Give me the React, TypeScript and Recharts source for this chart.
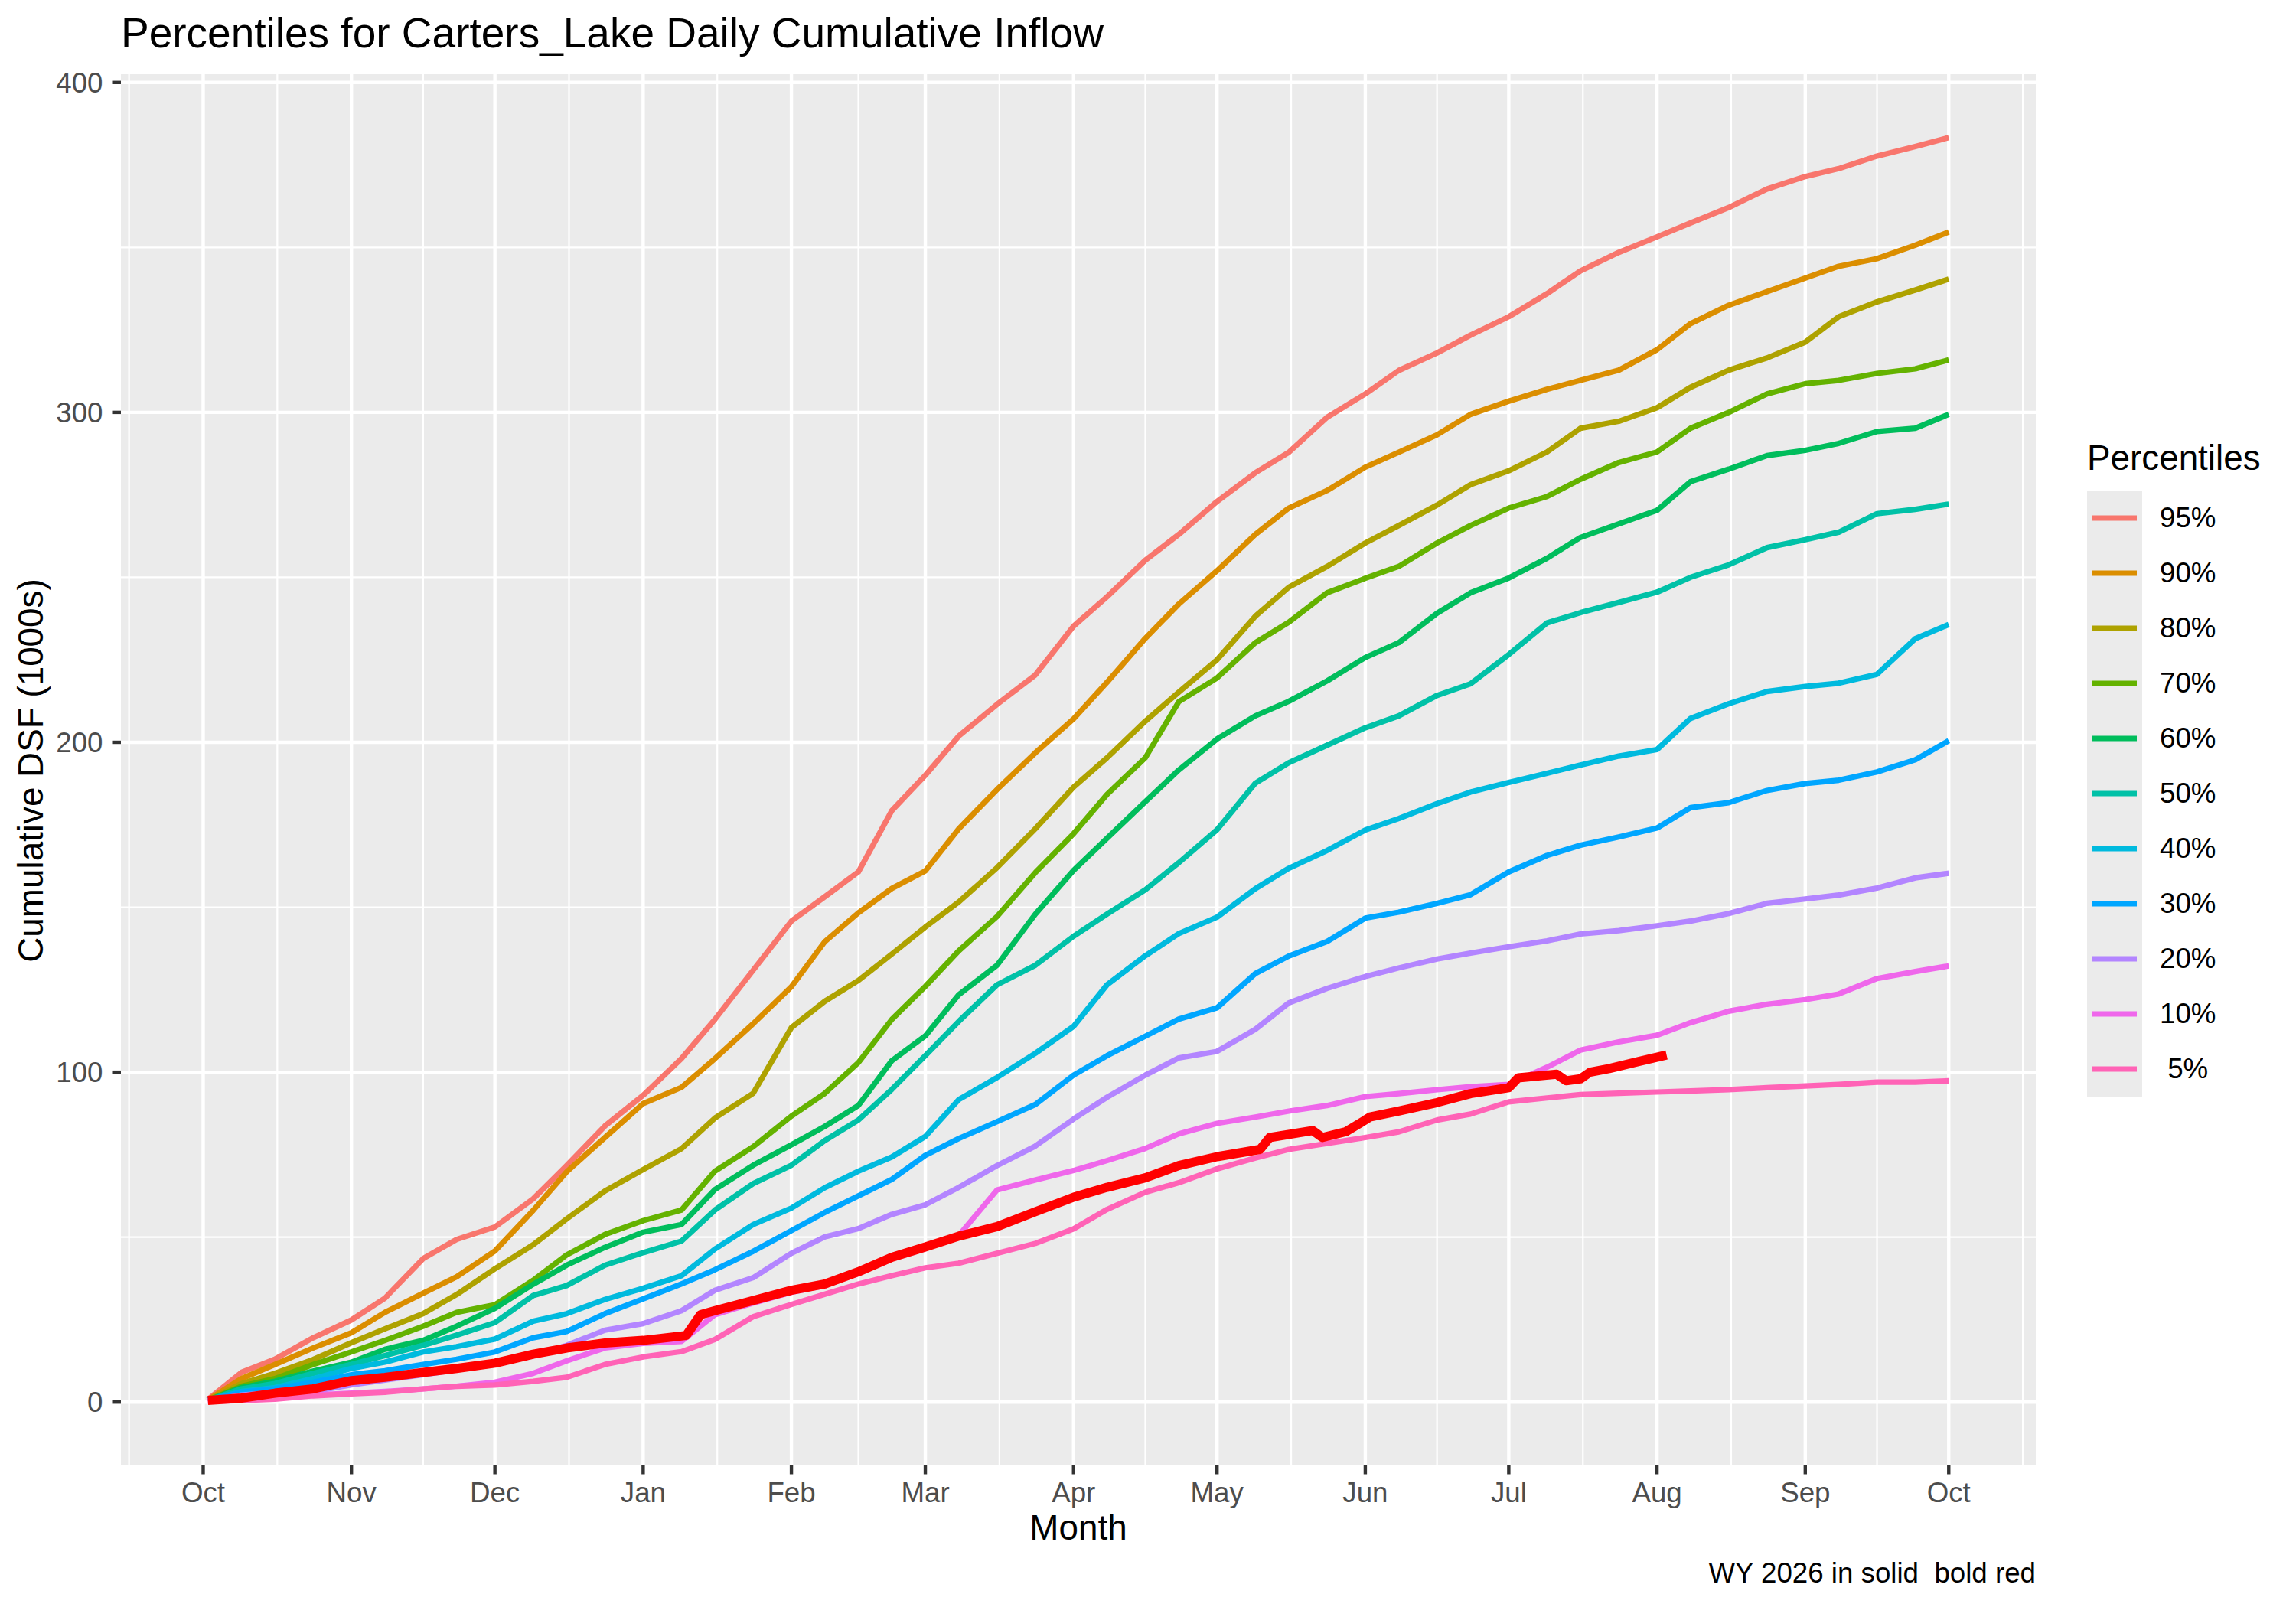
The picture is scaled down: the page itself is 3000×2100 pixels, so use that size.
import React from "react";
import {
  LineChart,
  Line,
  CartesianGrid,
  XAxis,
  YAxis,
  Legend,
  Customized,
} from "recharts";

const FONT = '"Liberation Sans", Arial, Helvetica, sans-serif';

// day of water year (0 = Oct 1)
const days = [
  1, 8, 15, 23, 31, 38, 46, 53, 61, 69, 76, 84, 92, 100, 107, 115, 123, 130,
  137, 144, 151, 158, 166, 174, 182, 189, 197, 204, 212, 220, 227, 235, 243,
  250, 258, 265, 273, 281, 288, 296, 304, 311, 319, 327, 335, 342, 350, 358,
  365,
];

const p95 = [
  0.8, 9, 13, 19.5, 24.9, 31.5, 43.5, 49.3, 53.1, 61.6, 71.7, 83.7, 93, 104.1,
  116, 130.9, 145.8, 153.2, 160.7, 179.3, 190, 201.9, 211.5, 220.4, 235.2,
  244.1, 255.2, 263, 273, 281.7, 287.9, 298.5, 305.6, 312.7, 318, 323.4, 329,
  336, 342.9, 348.5, 353.2, 357.4, 362.1, 367.7, 371.5, 373.9, 377.7, 380.6,
  383.3,
];
const p90 = [
  0.6, 7.1, 11.4, 16.4, 21, 27.2, 33, 38, 45.8, 58.1, 69.8, 80.2, 90.5, 95.4,
  104.1, 114.7, 125.9, 139.6, 148.3, 155.7, 161, 173.8, 185.7, 196.8, 207.1,
  218.2, 231.5, 241.9, 252, 263, 271, 276.3, 283.4, 287.9, 293.2, 299.4, 303.4,
  307, 309.7, 312.8, 319, 326.9, 332.5, 336.6, 340.7, 344.3, 346.6, 350.7,
  354.7,
];
const p80 = [
  0.5, 5.6, 8.7, 12.9, 18, 22.2, 26.8, 32.6, 40.4, 47.7, 55.5, 64, 70.5, 76.8,
  86.1, 93.6, 113.5, 121.5, 127.8, 135.8, 144, 151.6, 162, 173.8, 186.4, 195.3,
  206.4, 215.2, 225, 238.2, 247, 253.3, 260.4, 265.7, 271.9, 278.1, 282.3, 288,
  295.2, 297.3, 301.4, 307.6, 312.8, 316.5, 321.3, 329, 333.5, 337.1, 340.4,
];
const p70 = [
  0.5, 4.8, 7.1, 11.4, 15.2, 18.7, 23, 27.2, 29.5, 36.9, 44.6, 50.8, 55, 58.2,
  70, 77.4, 86.7, 93.6, 102.9, 116, 126, 136.8, 147.2, 160.5, 172.3, 184.2,
  195.3, 212.3, 219.5, 230.2, 236.4, 245.3, 249.7, 253.3, 260.4, 265.7, 271,
  274.5, 279.7, 284.8, 288, 295.2, 300, 305.6, 308.7, 309.7, 311.8, 313.2,
  315.9,
];
const p60 = [
  0.5, 4.4, 6.3, 9.4, 12.1, 16, 18.7, 23, 28.4, 35.7, 41.5, 46.9, 51.5, 53.8,
  64.4, 71.8, 78, 83.6, 89.9, 103.5, 111, 123.5, 132.4, 147.9, 161.2, 170.9,
  182, 191.6, 201, 208, 212.4, 218.6, 225.7, 230.2, 239.1, 245.3, 249.8, 255.8,
  262.1, 266.2, 270.3, 279, 282.8, 286.9, 288.5, 290.6, 294.2, 295.2, 299.4,
];
const p50 = [
  0.5, 4, 5.6, 8.7, 11.4, 14.1, 17.2, 20.3, 24.1, 32.3, 35.3, 41.5, 45.3, 48.8,
  58.2, 66.2, 71.8, 79.3, 85.5, 94.8, 105, 115.4, 126.5, 132.4, 141.2, 147.9,
  155.3, 163.5, 173.5, 187.6, 193.8, 199.1, 204.4, 208, 214.2, 217.7, 226.6,
  236.2, 239.3, 242.4, 245.5, 250, 253.8, 259, 261.4, 263.7, 269.3, 270.6,
  272.2,
];
const p40 = [
  0.5, 3.2, 4.4, 7.1, 10.2, 12.1, 15.2, 16.8, 19.1, 24.5, 26.8, 31.1, 34.5,
  38.3, 46.4, 53.8, 58.8, 65, 70, 74.3, 80.5, 91.7, 98.4, 105.7, 113.9, 126.5,
  135.3, 142, 147, 155.6, 161.8, 167.2, 173.4, 176.9, 181.4, 184.9, 187.8,
  190.6, 193.1, 195.8, 197.8, 207.2, 211.7, 215.4, 216.9, 217.9, 220.6, 231.4,
  235.7,
];
const p30 = [
  0.5, 3, 4, 6, 8.3, 9.5, 11.4, 13, 15.2, 19.5, 21.4, 26.8, 31.3, 35.8, 40.1,
  45.7, 52, 57.5, 62.5, 67.5, 74.8, 79.9, 85, 90.2, 99.1, 105, 110.9, 116.1,
  119.5, 129.9, 135.2, 139.6, 146.7, 148.5, 151.2, 153.8, 160.7, 165.7, 168.8,
  171.3, 174, 180.2, 181.7, 185.4, 187.5, 188.5, 191, 194.7, 200.5,
];
const p20 = [
  0.4, 2.1, 2.9, 3.2, 5.2, 6.7, 8.3, 9.8, 11.4, 14, 17.2, 21.8, 23.8, 27.7,
  33.9, 37.7, 45.1, 50.1, 52.6, 56.9, 59.8, 65.1, 71.7, 77.6, 85.8, 92.4, 99.1,
  104.3, 106.3, 113, 121, 125.4, 129, 131.6, 134.3, 136.1, 138, 139.8, 141.9,
  142.9, 144.4, 145.8, 148.1, 151.2, 152.5, 153.7, 155.8, 158.9, 160.3,
];
const p10 = [
  0.3, 0.9, 1.3, 2.1, 2.7, 3.2, 4, 4.8, 6, 8.7, 12.5, 16.4, 17.8, 18.4, 26.5,
  30, 33.3, 35.3, 39, 43.4, 46.5, 50.5, 64.3, 67.3, 70.2, 73.2, 76.9, 81.3,
  84.5, 86.4, 88.2, 89.9, 92.6, 93.5, 94.7, 95.6, 96.3, 101.5, 106.7, 109.2,
  111.2, 115, 118.5, 120.6, 122, 123.7, 128.4, 130.5, 132.2,
];
const p5 = [
  0.2, 0.5, 0.9, 1.9, 2.5, 3, 4, 4.8, 5.2, 6.3, 7.5, 11.4, 13.7, 15.3, 19,
  25.9, 29.6, 32.7, 35.8, 38.3, 40.7, 42.1, 45.1, 48.1, 52.5, 58.4, 63.6, 66.5,
  70.7, 74, 76.6, 78.4, 80.2, 81.9, 85.5, 87.3, 91, 92.2, 93.2, 93.6, 94, 94.3,
  94.7, 95.3, 95.8, 96.3, 97, 97, 97.4,
];

// WY 2026 so far
const wyDays = [
  1, 8, 15, 23, 31, 38, 46, 53, 61, 69, 76, 84, 92, 101, 104, 107, 115, 123,
  130, 137, 144, 151, 158, 166, 174, 182, 189, 197, 204, 212, 221, 223, 232,
  234, 239, 244, 250, 258, 265, 273, 275, 283, 285, 288, 290, 294, 300, 306,
];
const wy2026 = [
  0.5, 1.2, 2.7, 4.0, 6.5, 7.5, 9.0, 10.2, 11.8, 14.5, 16.4, 17.9, 18.7, 20.2,
  26.5, 27.7, 30.8, 33.9, 35.8, 39.5, 43.9, 47.0, 50.3, 53.2, 57.7, 62.1, 65.1,
  68.0, 71.7, 74.4, 76.6, 80.2, 82.3, 80.2, 82.0, 86.4, 88.2, 90.8, 93.5, 95.3,
  98.3, 99.4, 97.4, 98.0, 100.0, 101.1, 103.2, 105.2,
];

const percentileKeys = ["p95", "p90", "p80", "p70", "p60", "p50", "p40", "p30", "p20", "p10", "p5"];
const percentileNames = ["95%", "90%", "80%", "70%", "60%", "50%", "40%", "30%", "20%", "10%", " 5%"];
const percentileColors = [
  "#F8766D", "#DB8E00", "#AEA200", "#64B200", "#00BD5C", "#00C1A7",
  "#00BADE", "#00A6FF", "#B385FF", "#EF67EB", "#FF63B6",
];
const percentileValues = [p95, p90, p80, p70, p60, p50, p40, p30, p20, p10, p5];

const monthTicks = [0, 31, 61, 92, 123, 151, 182, 212, 243, 273, 304, 335, 365];
const monthLabels = ["Oct", "Nov", "Dec", "Jan", "Feb", "Mar", "Apr", "May", "Jun", "Jul", "Aug", "Sep", "Oct"];
const minorXTicks = [-15.5, 15.5, 46, 76.5, 107.5, 137, 166.5, 197, 227.5, 258, 288.5, 319.5, 350, 380.5];
const yTicks = [0, 100, 200, 300, 400];
const minorYTicks = [50, 150, 250, 350];

const chartData = days.map((day, i) => {
  const row: Record<string, number> = { day };
  percentileKeys.forEach((k, j) => {
    row[k] = percentileValues[j][i];
  });
  return row;
});

const wyData = wyDays.map((day, i) => ({ day, value: wy2026[i] }));

function PercentileLegend() {
  return (
    <div style={{ fontFamily: FONT, color: "#000" }}>
      <div style={{ fontSize: 45.8, lineHeight: "46px", height: 46, whiteSpace: "nowrap" }}>
        Percentiles
      </div>
      <div style={{ marginTop: 19 }}>
        {percentileNames.map((name, i) => (
          <div key={name} style={{ display: "flex", alignItems: "center", height: 72 }}>
            <svg width={72} height={72} style={{ display: "block", background: "#EBEBEB" }}>
              <line x1={7} x2={65} y1={36} y2={36} stroke={percentileColors[i]} strokeWidth={7} />
            </svg>
            <span style={{ marginLeft: 23, fontSize: 36.7, lineHeight: "72px", whiteSpace: "pre" }}>
              {name}
            </span>
          </div>
        ))}
      </div>
    </div>
  );
}

function ChartText() {
  return (
    <g fontFamily={FONT} fill="#000">
      <text x={158} y={62} fontSize={55}>
        Percentiles for Carters_Lake Daily Cumulative Inflow
      </text>
      <text x={1409} y={2012} fontSize={45.8} textAnchor="middle">
        Month
      </text>
      <text x={56} y={1007} fontSize={45.8} textAnchor="middle" transform="rotate(-90, 56, 1007)">
        Cumulative DSF (1000s)
      </text>
      <text x={2660} y={2068} fontSize={36.7} textAnchor="end" style={{ whiteSpace: "pre" }}>
        WY 2026 in solid  bold red
      </text>
    </g>
  );
}

export default function App() {
  return (
    <div style={{ position: "absolute", left: 0, top: 0, width: 3000, height: 2100, background: "#fff" }}>
      <LineChart
        width={3000}
        height={2100}
        data={chartData}
        margin={{ top: 97, right: 340, bottom: 125, left: 58 }}
      >
        <CartesianGrid
          fill="#EBEBEB"
          stroke="#FFFFFF"
          strokeWidth={2.2}
          horizontalValues={minorYTicks}
          verticalValues={minorXTicks}
        />
        <CartesianGrid
          stroke="#FFFFFF"
          strokeWidth={4.4}
          horizontalValues={yTicks}
          verticalValues={monthTicks}
        />
        <XAxis
          type="number"
          dataKey="day"
          domain={[-17.2, 383.2]}
          allowDataOverflow
          ticks={monthTicks}
          interval={0}
          tickFormatter={(v: number) => monthLabels[monthTicks.indexOf(v)]}
          axisLine={false}
          tickLine={{ stroke: "#333333", strokeWidth: 4.4 }}
          tickSize={11.5}
          tickMargin={10}
          tick={{ fill: "#4D4D4D", fontSize: 36.7, fontFamily: FONT }}
          height={60}
        />
        <YAxis
          type="number"
          domain={[-19.2, 402.5]}
          allowDataOverflow
          ticks={yTicks}
          interval={0}
          axisLine={false}
          tickLine={{ stroke: "#333333", strokeWidth: 4.4 }}
          tickSize={11.5}
          tickMargin={12}
          tick={{ fill: "#4D4D4D", fontSize: 36.7, fontFamily: FONT }}
          width={100}
        />
        <Legend
          layout="horizontal"
          verticalAlign="middle"
          align="center"
          content={() => <PercentileLegend />}
          wrapperStyle={{ position: "absolute", left: 2727, top: 576, width: 260 }}
        />
        {percentileKeys.map((k, i) => (
          <Line
            key={k}
            type="linear"
            dataKey={k}
            name={percentileNames[i]}
            stroke={percentileColors[i]}
            strokeWidth={7.2}
            strokeLinejoin="round"
            dot={false}
            activeDot={false}
            isAnimationActive={false}
          />
        ))}
        <Line
          data={wyData}
          type="linear"
          dataKey="value"
          name="WY 2026"
          stroke="#FF0000"
          strokeWidth={12}
          strokeLinejoin="round"
          dot={false}
          activeDot={false}
          legendType="none"
          isAnimationActive={false}
        />
        <Customized component={<ChartText />} />
      </LineChart>
    </div>
  );
}
